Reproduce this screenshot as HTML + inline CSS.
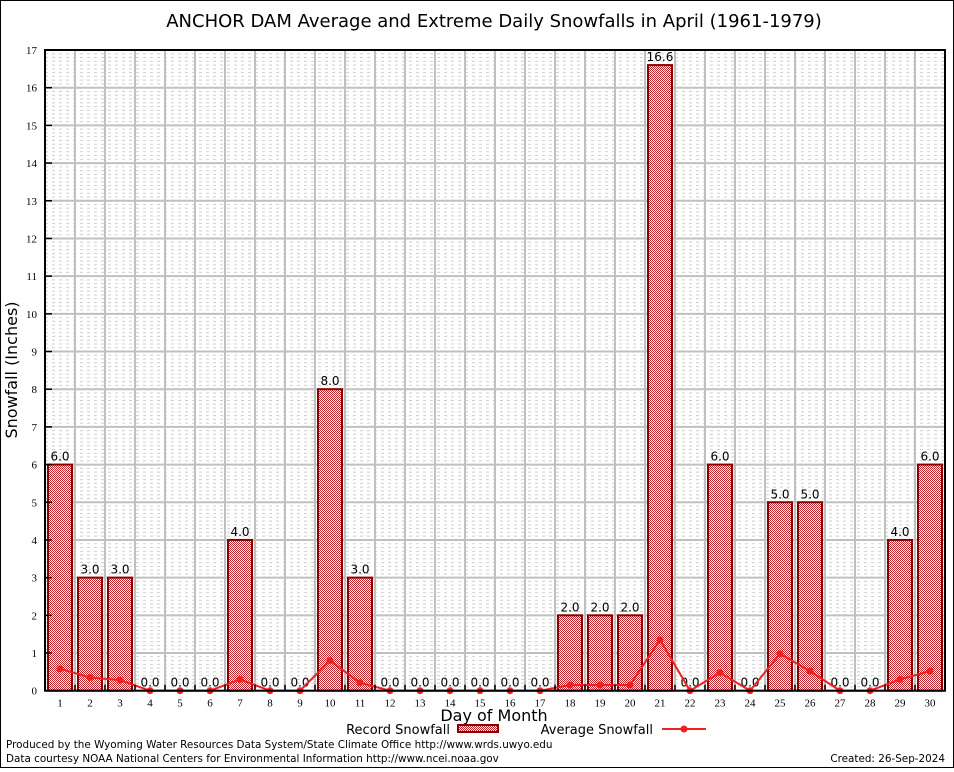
<!DOCTYPE html>
<html><head><meta charset="utf-8"><style>
body{margin:0;background:#fff;width:954px;height:768px;overflow:hidden;font-family:"DejaVu Sans","Liberation Sans",sans-serif}
</style></head><body>
<svg id="c" width="954" height="768" xmlns="http://www.w3.org/2000/svg">
<defs>
<pattern id="chk" x="0" y="0" width="2" height="2" patternUnits="userSpaceOnUse">
<rect width="2" height="2" fill="#fff" shape-rendering="crispEdges"/><rect width="1" height="1" fill="#c0262c" shape-rendering="crispEdges"/><rect x="1" y="1" width="1" height="1" fill="#c0262c" shape-rendering="crispEdges"/>
</pattern>
</defs>
<rect x="0.5" y="0.5" width="953" height="767" fill="none" stroke="#000"/>
<text x="494" y="27" font-size="18" text-anchor="middle">ANCHOR DAM Average and Extreme Daily Snowfalls in April (1961-1979)</text>
<g id="grid"></g>
<g id="bars"></g>
<g id="line"></g>
<g id="axes"></g>
<text transform="translate(17,370) rotate(-90)" font-size="16" text-anchor="middle">Snowfall (Inches)</text>
<text x="494" y="721" font-size="16" text-anchor="middle">Day of Month</text>
<g>
<text x="450" y="734" font-size="13" text-anchor="end">Record Snowfall</text>
<rect x="458" y="725" width="40" height="7" fill="url(#chk)" stroke="#8b0000" stroke-width="2"/>
</g>
<g>
<text x="653" y="734" font-size="13" text-anchor="end">Average Snowfall</text>
<line x1="662" y1="729" x2="706" y2="729" stroke="#f02020" stroke-width="2"/>
<circle cx="684" cy="729" r="3.5" fill="#f02020"/>
</g>
<text x="6" y="748" font-size="10.4">Produced by the Wyoming Water Resources Data System/State Climate Office http://www.wrds.uwyo.edu</text>
<text x="6" y="762" font-size="10.4">Data courtesy NOAA National Centers for Environmental Information http://www.ncei.noaa.gov</text>
<text x="945" y="762" font-size="10.4" text-anchor="end">Created: 26-Sep-2024</text>
</svg>
<script>
const days=[1,2,3,4,5,6,7,8,9,10,11,12,13,14,15,16,17,18,19,20,21,22,23,24,25,26,27,28,29,30];
const recordValues=[6,3,3,0,0,0,4,0,0,8,3,0,0,0,0,0,0,2,2,2,16.6,0,6,0,5,5,0,0,4,6];
const averageValues=[0.58,0.35,0.28,0,0,0,0.3,0,0,0.8,0.21,0,0,0,0,0,0,0.15,0.15,0.15,1.35,0,0.48,0,0.98,0.52,0,0,0.3,0.52];
const yTicks=[0,1,2,3,4,5,6,7,8,9,10,11,12,13,14,15,16,17];
const L=45,R=945,T=50,B=690.7,yMax=17;
const NS='http://www.w3.org/2000/svg';
const xs=d=>L+(d-0.5)*(R-L)/30;
const ys=v=>B-v*(B-T)/yMax;
function mk(tag,attrs,parent,txt){const e=document.createElementNS(NS,tag);for(const k in attrs)e.setAttribute(k,attrs[k]);if(txt!==undefined)e.textContent=txt;parent.appendChild(e);return e;}
const grid=document.getElementById('grid'),bars=document.getElementById('bars'),line=document.getElementById('line'),axes=document.getElementById('axes');
for(let v=0.1;v<yMax;v+=0.1){const y=ys(v);mk('line',{x1:L,x2:R,y1:y,y2:y,stroke:'#cfcfcf','stroke-width':1,'stroke-dasharray':'3,4'},grid);}
yTicks.forEach(v=>{const y=ys(v);
const gl=mk('line',{x1:L,x2:R,y1:y,y2:y,stroke:'#c0c0c0','stroke-width':2},grid);


const t=mk('text',{x:L-8,y:y+4,'font-size':11,'text-anchor':'end','font-family':'Liberation Serif,serif'},axes,v);


mk('line',{x1:L,x2:L+7,y1:y,y2:y,stroke:'#000','stroke-width':1.5},axes);
});
for(let k=1;k<30;k++){const x=L+k*30;mk('line',{x1:x,x2:x,y1:T,y2:B,stroke:'#c0c0c0','stroke-width':2},grid);}
days.forEach((d,i)=>{const x=xs(d),v=recordValues[i];
if(v>0){const b=mk('rect',{x:Math.round(x-12),y:ys(v),width:24,height:B-ys(v),fill:'url(#chk)',stroke:'#8b0000','stroke-width':2},bars);

}
const lb=mk('text',{x:x,y:ys(v)-4,'font-size':12,'text-anchor':'middle'},bars,v.toFixed(1));


const t=mk('text',{x:x,y:B+16,'font-size':11,'text-anchor':'middle','font-family':'Liberation Serif,serif'},axes,d);


mk('line',{x1:L+d*30,x2:L+d*30,y1:B,y2:B-6,stroke:'#000','stroke-width':1.5},axes);
});
const pts=days.map((d,i)=>xs(d)+','+ys(averageValues[i])).join(' ');
const pl=mk('polyline',{points:pts,fill:'none',stroke:'#f02020','stroke-width':2},line);


days.forEach((d,i)=>{const c=mk('circle',{cx:xs(d),cy:ys(averageValues[i]),r:3.5,fill:'#f02020'},line);

});
mk('rect',{x:L,y:T,width:R-L,height:B-T,fill:'none',stroke:'#000','stroke-width':2},axes);
</script>
</body></html>
